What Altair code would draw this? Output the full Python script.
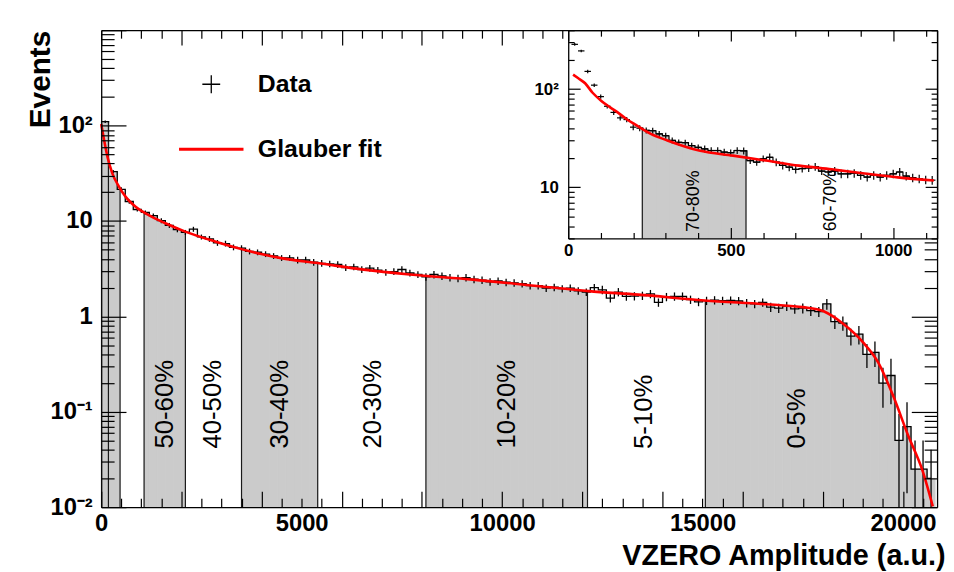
import altair as alt
import pandas as pd

FONT = "Liberation Sans"
W, H = 843, 481  # main plot area in px

# ---------------- main histogram (VZERO amplitude) ----------------
main_x_domain = [0, 20850]
main_y_domain = [0.01, 1000]
main_half = 100
main_centers = list(range(100, 20800, 200))
main_values = [
    110, 33, 21.5, 16, 13.2, 12.3, 11.4, 10.1, 9.0, 8.1,
    7.6, 8.2, 6.8, 6.5, 5.9, 5.8, 5.3, 5.2, 4.8, 4.7,
    4.5, 4.3, 4.1, 4.1, 3.9, 3.9, 3.7, 3.6, 3.55, 3.5,
    3.25, 3.3, 3.1, 3.2, 3.05, 2.9, 2.95, 3.1, 2.85, 2.75,
    2.6, 2.75, 2.65, 2.55, 2.5, 2.55, 2.45, 2.4, 2.3, 2.35,
    2.28, 2.25, 2.2, 2.1, 2.1, 1.98, 2.02, 1.95, 1.98, 1.85,
    1.8, 2.0, 1.9, 1.55, 1.8, 1.62, 1.63, 1.65, 1.72, 1.4,
    1.6, 1.62, 1.62, 1.5, 1.42, 1.46, 1.48, 1.46, 1.47, 1.45,
    1.38, 1.35, 1.4, 1.25, 1.22, 1.28, 1.2, 1.22, 1.15, 1.12,
    1.35, 0.88, 0.85, 0.62, 0.65, 0.4, 0.42, 0.2, 0.24, 0.05,
    0.07, 0.025, 0.025, 0.02,
]
main_rel_err = [
    0.03, 0.04, 0.05, 0.05, 0.05, 0.05, 0.05, 0.06, 0.06, 0.06,
    0.06, 0.06, 0.06, 0.07, 0.07, 0.07, 0.07, 0.07, 0.07, 0.07,
    0.07, 0.07, 0.07, 0.07, 0.08, 0.08, 0.08, 0.08, 0.08, 0.08,
    0.08, 0.08, 0.08, 0.08, 0.08, 0.08, 0.08, 0.08, 0.08, 0.08,
    0.09, 0.09, 0.09, 0.09, 0.09, 0.09, 0.09, 0.09, 0.09, 0.09,
    0.09, 0.09, 0.09, 0.09, 0.09, 0.09, 0.09, 0.09, 0.09, 0.09,
    0.09, 0.09, 0.10, 0.10, 0.10, 0.10, 0.10, 0.10, 0.10, 0.10,
    0.10, 0.10, 0.10, 0.10, 0.10, 0.10, 0.10, 0.10, 0.10, 0.10,
    0.10, 0.10, 0.10, 0.11, 0.11, 0.11, 0.11, 0.12, 0.12, 0.12,
    0.13, 0.16, 0.17, 0.20, 0.22, 0.28, 0.30, 0.45, 0.50, 0.90,
    0.80, 1.0, 1.0, 1.0,
]
fit_x = [0, 74, 157, 280, 446, 611, 858, 1188, 1601, 2096, 2839, 3498, 4488,
         5396, 6551, 7700, 9274, 10923, 12161, 13399, 15050, 16700, 17500,
         18020, 18515, 19010, 19380, 19752, 20124, 20495, 20743]
fit_y = [104, 70, 47, 31.4, 22.8, 17.9, 14.1, 11.5, 9.46, 7.74, 6.1, 5.07, 4.08,
         3.62, 3.09, 2.75, 2.43, 2.07, 1.84, 1.69, 1.47, 1.33, 1.25,
         1.13, 0.83, 0.53, 0.33, 0.148, 0.057, 0.0236, 0.0102]

shaded_lo = [0, 1070, 3500, 8100, 15070]
shaded_hi = [470, 2100, 5400, 12130, 20800]
edge_x = [180, 470, 1070, 2100, 3500, 5400, 8100, 12130, 15070]
band_labels = ["50-60%", "40-50%", "30-40%", "20-30%", "10-20%", "5-10%", "0-5%"]
band_label_x = [1590, 2780, 4470, 6790, 10120, 13550, 17350]
band_label_y = [0.12, 0.12, 0.12, 0.12, 0.12, 0.10, 0.085]
outline_from = 300

# ---------------- inset (low amplitude zoom) ----------------
inset_x_domain = [0, 1135]
inset_y_domain = [3, 400]
inset_half = 10
inset_centers = list(range(20, 1140, 20))
inset_values = [
    287, 246, 152, 110, 84, 67, 58, 51, 49, 41,
    40, 38, 37.7, 35, 33.5, 30, 28.7, 28.5, 26.6, 25.5,
    24.6, 23.7, 23.7, 22.8, 22.5, 23.7, 23.5, 18.7, 18, 19.5,
    20.2, 18, 16.7, 16, 15.2, 15.5, 15.7, 16.2, 14.6, 14.3,
    14.6, 13.7, 13.7, 13.9, 13.2, 12.7, 13.2, 12.7, 13.2, 13.7,
    14.3, 13.0, 12.5, 12.2, 11.9, 11.8,
]
inset_rel_err = [
    0.03, 0.03, 0.04, 0.04, 0.05, 0.05, 0.06, 0.06, 0.06, 0.07,
    0.07, 0.07, 0.07, 0.07, 0.07, 0.07, 0.07, 0.07, 0.07, 0.07,
    0.08, 0.08, 0.08, 0.08, 0.08, 0.08, 0.08, 0.08, 0.08, 0.08,
    0.09, 0.09, 0.09, 0.09, 0.09, 0.09, 0.09, 0.09, 0.09, 0.09,
    0.10, 0.10, 0.10, 0.10, 0.10, 0.10, 0.10, 0.10, 0.10, 0.10,
    0.10, 0.10, 0.10, 0.10, 0.10, 0.10,
]
inset_fit_x = [15, 30, 52, 75, 102, 127, 152, 178, 204, 254, 305, 406, 507,
               608, 710, 811, 912, 1014, 1125]
inset_fit_y = [141, 130, 115, 92, 76, 66, 58, 50, 44, 35, 30, 23.5, 21,
               18.7, 16.6, 15.2, 13.8, 12.6, 11.7]
inset_shaded_lo = [228]
inset_shaded_hi = [547]
inset_edge_x = [228, 547]
inset_band_labels = ["70-80%", "60-70%"]
inset_band_label_x = [387, 810]
inset_band_label_y = [7.2, 7.3]
inset_outline_from = 220

legend_labels = ["Data", "Glauber fit"]

# inset placement inside the main plot area (px)
INSET_X0, INSET_Y1 = 471, 210
SHADE = "#cbcbcb"


# ---------------- helpers ----------------
def hist_frame(centers, values, rel, half, ymin):
    lo_err = [max(v * (1 - r), ymin) for v, r in zip(values, rel)]
    hi_err = [v * (1 + r) for v, r in zip(values, rel)]
    return pd.DataFrame({
        "c": centers, "v": values, "elo": lo_err, "ehi": hi_err,
        "blo": [c - half for c in centers], "bhi": [c + half for c in centers],
    })


def shade_frame(centers, values, half, los, his):
    rows = []
    for lo, hi in zip(los, his):
        for c, v in zip(centers, values):
            a, b = max(lo, c - half), min(hi, c + half)
            if b > a:
                rows.append({"x": a, "x2": b, "v": v})
    return pd.DataFrame(rows)


def edge_frame(centers, values, half, edges):
    rows = []
    for e in edges:
        for c, v in zip(centers, values):
            if c - half <= e < c + half:
                rows.append({"e": e, "v": v})
    return pd.DataFrame(rows)


def tsize(test, big, small):
    return {"condition": {"test": test, "value": big}, "value": small}


DECADE = "abs(log(datum.value)/LN10 - round(log(datum.value)/LN10)) < 0.001"
YLAB = ("datum.value == 100 ? '10\u00b2' : datum.value == 10 ? '10' : "
        "datum.value == 1 ? '1' : datum.value == 0.1 ? '10\u207b\u00b9' : "
        "datum.value == 0.01 ? '10\u207b\u00b2' : ''")

# ---------------- main scales & axes ----------------
xs = alt.Scale(domain=main_x_domain, nice=False, zero=False)
ys = alt.Scale(type="log", domain=main_y_domain, nice=False)

x_ticks = list(range(0, 20850, 500))
y_ticks = [m * 10.0 ** d for d in range(-2, 3) for m in range(1, 10)] + [1000]
x_ticks_top = [t for t in x_ticks if t < 11600]
y_ticks_right = [t for t in y_ticks if t < 6.6]

common_tick = dict(grid=False, labels=False, title=None, tickColor="black",
                   tickWidth=1.2, domainColor="black", domainWidth=1.3, zindex=1)

ax_bottom = alt.Axis(
    orient="bottom", values=[0, 5000, 10000, 15000, 20000], format="d",
    ticks=False, tickSize=0, labelPadding=5, labelFontSize=24,
    labelFontWeight="bold", labelFont=FONT, labelColor="black", labelFlush=False,
    labelOverlap=False, domain=True, domainColor="black", domainWidth=1.3,
    grid=False, title="VZERO Amplitude (a.u.)", titleFont=FONT, titleFontSize=29,
    titleFontWeight="bold", titleColor="black", titleAlign="right",
    titleAnchor="end", titleBaseline="alphabetic", titleX=851, titleY=58, zindex=1)
ax_left = alt.Axis(
    orient="left", values=[0.01, 0.1, 1, 10, 100], labelExpr=YLAB,
    ticks=False, tickSize=0, labelPadding=9, labelFontSize=24,
    labelFontWeight="bold", labelFont=FONT, labelColor="black", labelFlush=False,
    labelOverlap=False, domain=True, domainColor="black", domainWidth=1.3,
    grid=False, title="Events", titleFont=FONT, titleFontSize=30,
    titleFontWeight="bold", titleColor="black", titleAngle=270,
    titleAlign="right", titleBaseline="alphabetic", titleX=-52, titleY=0, zindex=1)
ax_x_in_bottom = alt.Axis(orient="top", offset=-H, values=x_ticks,
                          tickSize=tsize("datum.value % 2000 === 0", 16, 9),
                          domain=False, **common_tick)
ax_x_in_top = alt.Axis(orient="bottom", offset=-H, values=x_ticks_top,
                       tickSize=tsize("datum.value % 2000 === 0", 15, 8),
                       domain=True, **common_tick)
ax_y_in_left = alt.Axis(orient="right", offset=-W, values=y_ticks,
                        tickSize=tsize(DECADE, 25, 13), domain=False, **common_tick)
ax_y_in_right = alt.Axis(orient="left", offset=-W, values=y_ticks_right,
                         tickSize=tsize(DECADE, 26, 13), domain=True, **common_tick)

main_df = hist_frame(main_centers, main_values, main_rel_err, main_half, main_y_domain[0])
shade_df = shade_frame(main_centers, main_values, main_half, shaded_lo, shaded_hi)
edges_df = edge_frame(main_centers, main_values, main_half, edge_x)
fit_df = pd.DataFrame({"fx": fit_x, "fy": fit_y})
lab_df = pd.DataFrame({"t": band_labels, "lx": band_label_x, "ly": band_label_y})

m_shade = alt.Chart(shade_df).mark_rect(color=SHADE, stroke=SHADE, strokeWidth=1).encode(
    x=alt.X("x:Q", scale=xs, axis=ax_bottom), x2="x2:Q",
    y=alt.Y("v:Q", scale=ys, axis=ax_left), y2=alt.Y2(datum=main_y_domain[0]))
m_edges = alt.Chart(edges_df).mark_rule(color="#1a1a1a", strokeWidth=1.2).encode(
    x=alt.X("e:Q", scale=xs, axis=None),
    y=alt.Y("v:Q", scale=ys, axis=None), y2=alt.Y2(datum=main_y_domain[0]))
m_step = alt.Chart(main_df[main_df["c"] >= outline_from]).mark_line(
    interpolate="step", color="black", strokeWidth=1.3).encode(
    x=alt.X("c:Q", scale=xs, axis=ax_x_in_bottom),
    y=alt.Y("v:Q", scale=ys, axis=ax_y_in_left))
m_err = alt.Chart(main_df).mark_rule(color="black", strokeWidth=1.3).encode(
    x=alt.X("c:Q", scale=xs, axis=None),
    y=alt.Y("elo:Q", scale=ys, axis=None), y2="ehi:Q")
m_hbar = alt.Chart(main_df[main_df["c"] < outline_from]).mark_rule(
    color="black", strokeWidth=1.3).encode(
    x=alt.X("blo:Q", scale=xs, axis=None), x2="bhi:Q",
    y=alt.Y("v:Q", scale=ys, axis=None))
m_fit = alt.Chart(fit_df).mark_line(color="#ff0000", strokeWidth=2.6,
                                    interpolate="monotone").encode(
    x=alt.X("fx:Q", scale=xs, axis=ax_x_in_top),
    y=alt.Y("fy:Q", scale=ys, axis=ax_y_in_right))
m_lab = alt.Chart(lab_df).mark_text(angle=270, font=FONT, fontSize=26,
                                    align="center", baseline="middle",
                                    color="black").encode(
    x=alt.X("lx:Q", scale=xs, axis=None),
    y=alt.Y("ly:Q", scale=ys, axis=None), text="t:N")

leg = alt.Legend(title=None, orient="none", legendX=77, legendY=42,
                 direction="vertical", labelFont=FONT, labelFontSize=25,
                 labelFontWeight="bold", labelColor="black", labelOffset=13,
                 rowPadding=18, padding=0, symbolOpacity=1)
leg_df = pd.DataFrame({"series": legend_labels, "lx": [0, 0], "ly": [1, 1]})
m_legend = alt.Chart(leg_df).transform_filter("false").mark_point(filled=False).encode(
    x=alt.X("lx:Q", scale=xs, axis=None),
    y=alt.Y("ly:Q", scale=ys, axis=None),
    color=alt.Color("series:N", scale=alt.Scale(domain=legend_labels,
                                                range=["black", "#ff0000"]), legend=leg),
    shape=alt.Shape("series:N", scale=alt.Scale(domain=legend_labels,
                                                range=["M-1,0H1M0,-1V1", "M-1,0H1"]), legend=leg),
    size=alt.Size("series:N", scale=alt.Scale(domain=legend_labels,
                                              range=[324, 4225]), legend=leg),
    strokeWidth=alt.StrokeWidth("series:N", scale=alt.Scale(domain=legend_labels,
                                                            range=[1.3, 3]), legend=leg),
)

main = alt.layer(m_shade, m_edges, m_step, m_err, m_hbar, m_fit, m_lab,
                 m_legend).resolve_axis(x="independent", y="independent")

# ---------------- inset scales & axes ----------------
xsi = alt.Scale(domain=inset_x_domain, range=[INSET_X0, W], nice=False, zero=False)
ysi = alt.Scale(type="log", domain=inset_y_domain, range=[INSET_Y1, 0], nice=False)

ix_ticks = list(range(0, 1135, 100))
iy_ticks = [3, 4, 5, 6, 7, 8, 9, 10, 20, 30, 40, 50, 60, 70, 80, 90, 100, 200, 300, 400]

ax_i_bottom = alt.Axis(
    orient="bottom", offset=-(H - INSET_Y1), values=[0, 500, 1000], format="d",
    ticks=False, tickSize=0, labelPadding=4, labelFontSize=17,
    labelFontWeight="bold", labelFont=FONT, labelColor="black", labelFlush=False,
    labelOverlap=False, domain=True, domainColor="black", domainWidth=1.3,
    grid=False, title=None, zindex=1)
ax_i_left = alt.Axis(
    orient="left", offset=-INSET_X0, values=[10, 100], labelExpr=YLAB,
    ticks=False, tickSize=0, labelPadding=10, labelFontSize=17,
    labelFontWeight="bold", labelFont=FONT, labelColor="black", labelFlush=False,
    labelOverlap=False, domain=True, domainColor="black", domainWidth=1.3,
    grid=False, title=None, zindex=1)
ax_i_x_in_bottom = alt.Axis(orient="top", offset=-INSET_Y1, values=ix_ticks,
                            tickSize=tsize("datum.value % 500 === 0", 11, 6),
                            domain=False, **common_tick)
ax_i_x_in_top = alt.Axis(orient="bottom", offset=-H, values=ix_ticks,
                         tickSize=tsize("datum.value % 500 === 0", 11, 6),
                         domain=True, **common_tick)
ax_i_y_in_left = alt.Axis(orient="right", offset=-(W - INSET_X0), values=iy_ticks,
                          tickSize=tsize(DECADE, 12, 6), domain=False, **common_tick)
ax_i_y_in_right = alt.Axis(orient="left", offset=-W, values=iy_ticks,
                           tickSize=tsize(DECADE, 12, 6), domain=True, **common_tick)

inset_df = hist_frame(inset_centers, inset_values, inset_rel_err, inset_half,
                      inset_y_domain[0])
ishade_df = shade_frame(inset_centers, inset_values, inset_half,
                        inset_shaded_lo, inset_shaded_hi)
iedges_df = edge_frame(inset_centers, inset_values, inset_half, inset_edge_x)
ifit_df = pd.DataFrame({"fx": inset_fit_x, "fy": inset_fit_y})
ilab_df = pd.DataFrame({"t": inset_band_labels, "lx": inset_band_label_x,
                        "ly": inset_band_label_y})

i_shade = alt.Chart(ishade_df).mark_rect(color=SHADE, stroke=SHADE, strokeWidth=1).encode(
    x=alt.X("x:Q", scale=xsi, axis=ax_i_bottom), x2="x2:Q",
    y=alt.Y("v:Q", scale=ysi, axis=ax_i_left), y2=alt.Y2(datum=inset_y_domain[0]))
i_edges = alt.Chart(iedges_df).mark_rule(color="#1a1a1a", strokeWidth=1.2).encode(
    x=alt.X("e:Q", scale=xsi, axis=None),
    y=alt.Y("v:Q", scale=ysi, axis=None), y2=alt.Y2(datum=inset_y_domain[0]))
i_step = alt.Chart(inset_df[inset_df["c"] >= inset_outline_from]).mark_line(
    interpolate="step", color="black", strokeWidth=1.2).encode(
    x=alt.X("c:Q", scale=xsi, axis=ax_i_x_in_bottom),
    y=alt.Y("v:Q", scale=ysi, axis=ax_i_y_in_left))
i_err = alt.Chart(inset_df).mark_rule(color="black", strokeWidth=1.2).encode(
    x=alt.X("c:Q", scale=xsi, axis=None),
    y=alt.Y("elo:Q", scale=ysi, axis=None), y2="ehi:Q")
i_hbar = alt.Chart(inset_df).mark_rule(color="black", strokeWidth=1.2).encode(
    x=alt.X("blo:Q", scale=xsi, axis=None), x2="bhi:Q",
    y=alt.Y("v:Q", scale=ysi, axis=None))
i_fit = alt.Chart(ifit_df).mark_line(color="#ff0000", strokeWidth=2.6,
                                     interpolate="monotone").encode(
    x=alt.X("fx:Q", scale=xsi, axis=ax_i_x_in_top),
    y=alt.Y("fy:Q", scale=ysi, axis=ax_i_y_in_right))
i_lab = alt.Chart(ilab_df).mark_text(angle=270, font=FONT, fontSize=18,
                                     align="center", baseline="middle",
                                     color="black").encode(
    x=alt.X("lx:Q", scale=xsi, axis=None),
    y=alt.Y("ly:Q", scale=ysi, axis=None), text="t:N")

inset = alt.layer(i_shade, i_edges, i_step, i_err, i_hbar, i_fit,
                  i_lab).resolve_axis(x="independent", y="independent")

chart = alt.layer(main, inset).resolve_scale(
    x="independent", y="independent"
).resolve_axis(
    x="independent", y="independent"
).properties(
    width=W, height=H,
    autosize=alt.AutoSizeParams(type="none"),
    padding={"left": 94, "top": 20, "right": 9, "bottom": 63},
    background="white",
).configure_view(stroke=None)

chart.save("out.html", embed_options={"renderer": "svg", "actions": False})
